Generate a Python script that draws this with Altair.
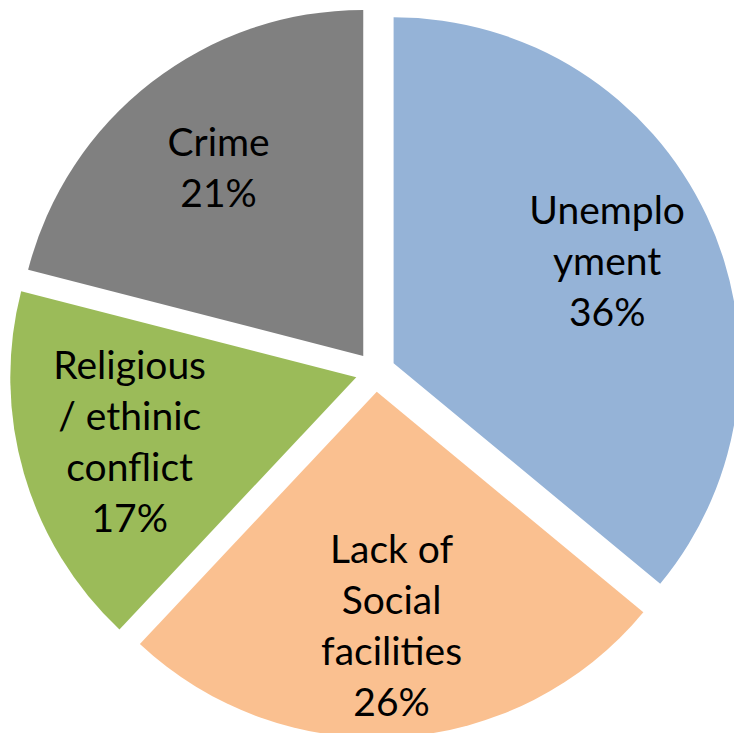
import altair as alt
import pandas as pd

categories = ["Unemployment", "Lack of Social facilities", "Religious / ethinic conflict", "Crime"]
labels = ["Unemplo\nyment", "Lack of\nSocial\nfacilities", "Religious\n/ ethinic\nconflict", "Crime"]
values = [36, 26, 17, 21]
colors = ["#95B3D7", "#FAC090", "#9BBB59", "#808080"]

df = pd.DataFrame({"category": categories, "label": labels, "value": values,
                   "order": list(range(len(values)))})

CX, CY = 375.5, 371.7
EXPLODE = 20
R = 346
LR = 236
LH = 51

base = alt.Chart(df).transform_window(
    cum="sum(value)", sort=[alt.SortField("order")], frame=[None, 0]
).transform_joinaggregate(
    total="sum(value)"
).transform_calculate(
    end="2*PI*datum.cum/datum.total",
    start="2*PI*(datum.cum-datum.value)/datum.total",
).transform_calculate(
    mid="(datum.start+datum.end)/2"
).transform_calculate(
    cx=f"{CX}+{EXPLODE}*sin(datum.mid)",
    cy=f"{CY}-{EXPLODE}*cos(datum.mid)",
).transform_calculate(
    txt="datum.label + '\\n' + datum.value + '%'",
).transform_calculate(
    nlines="length(split(datum.txt, '\\n'))",
).transform_calculate(
    lx=f"datum.cx+{LR}*sin(datum.mid)",
    ly=f"datum.cy-{LR}*cos(datum.mid)-(datum.nlines-1)*{LH}/2",
)

arcs = base.mark_arc(radius=R).encode(
    x=alt.X("cx:Q", scale=None),
    y=alt.Y("cy:Q", scale=None),
    theta=alt.Theta("start:Q", scale=None, stack=None),
    theta2="end:Q",
    color=alt.Color("category:N", scale=alt.Scale(domain=categories, range=colors), legend=None),
)

texts = base.mark_text(font="Lato", fontSize=39, lineBreak="\n", lineHeight=LH,
                       align="center", baseline="middle", color="black").encode(
    x=alt.X("lx:Q", scale=None),
    y=alt.Y("ly:Q", scale=None),
    text="txt:N",
)

chart = alt.layer(arcs, texts).properties(
    width=734, height=733, autosize="none", padding=0, background="white"
).configure_view(stroke=None)

chart.save("out.html", embed_options={"renderer": "svg", "actions": False})
